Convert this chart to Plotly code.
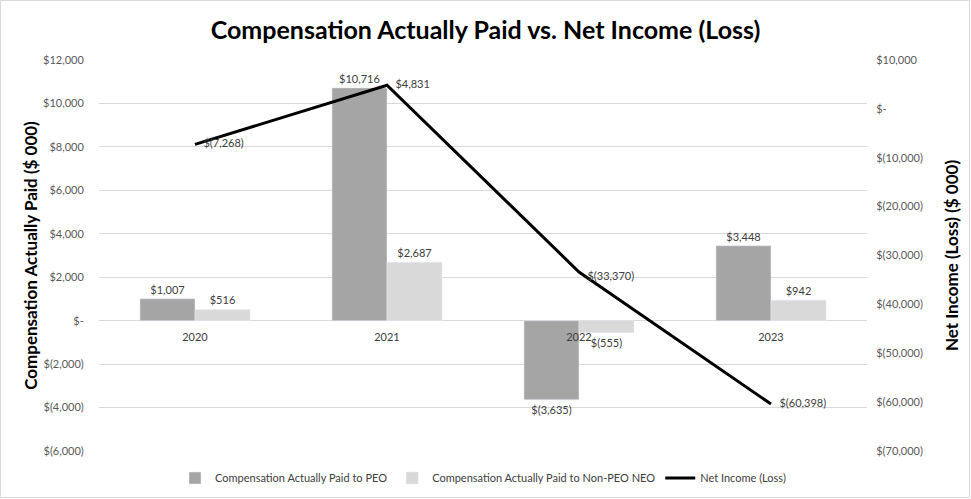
import plotly.graph_objects as go
from plotly.subplots import make_subplots

years = ["2020", "2021", "2022", "2023"]
cap_peo = [1007, 10716, -3635, 3448]
cap_non_peo = [516, 2687, -555, 942]
net_income = [-7268, 4831, -33370, -60398]
left_ticks = [12000, 10000, 8000, 6000, 4000, 2000, 0, -2000, -4000, -6000]
right_ticks = [10000, 0, -10000, -20000, -30000, -40000, -50000, -60000, -70000]

title = "Compensation Actually Paid vs. Net Income (Loss)"
left_title = "Compensation Actually Paid ($ 000)"
right_title = "Net Income (Loss) ($ 000)"
names = ["Compensation Actually Paid to PEO", "Compensation Actually Paid to Non-PEO NEO", "Net Income (Loss)"]


def fmt(v):
    if v == 0:
        return "$-"
    if v < 0:
        return "$({:,})".format(-v)
    return "${:,}".format(v)


FONT = "Lato"
W, H = 971, 499
ML, MR, MT, MB = 99, 104, 60, 48
PW, PH = W - ML - MR, H - MT - MB
PAD = "\u00a0\u00a0\u00a0"

fig = make_subplots(specs=[[{"secondary_y": True}]])

fig.add_trace(go.Bar(
    x=years, y=cap_peo, name=names[0], marker_color="#a5a5a5",
    text=[fmt(v) for v in cap_peo], textposition="outside",
    textfont=dict(size=11, color="#404040", family=FONT), cliponaxis=False,
), secondary_y=False)
fig.add_trace(go.Bar(
    x=years, y=cap_non_peo, name=names[1], marker_color="#d9d9d9",
    text=[fmt(v) for v in cap_non_peo], textposition="outside",
    textfont=dict(size=11, color="#404040", family=FONT), cliponaxis=False,
), secondary_y=False)
fig.add_trace(go.Scatter(
    x=years, y=net_income, name=names[2], mode="lines+text",
    line=dict(color="black", width=3),
    text=[PAD + fmt(v) for v in net_income],
    textposition=["middle right", "middle right", "bottom right", "middle right"],
    textfont=dict(size=11, color="#404040", family=FONT), cliponaxis=False,
), secondary_y=True)

lmin, lmax = min(left_ticks), max(left_ticks)
rmin, rmax = min(right_ticks), max(right_ticks)

fig.update_layout(
    width=W, height=H,
    margin=dict(l=ML, r=MR, t=MT, b=MB, autoexpand=False),
    paper_bgcolor="white", plot_bgcolor="white",
    font=dict(family=FONT, color="#595959"),
    title=dict(text="<b>" + title + "</b>", x=0.5, xanchor="center", xref="container",
               y=1 - 30 / H, yanchor="middle", yref="container",
               font=dict(size=25, color="black", family=FONT)),
    barmode="group", bargap=0.427, bargroupgap=0,
    showlegend=True,
    legend=dict(orientation="h", x=0.5, xanchor="center", y=-27 / PH, yanchor="middle",
                font=dict(size=11, color="#404040", family=FONT), traceorder="normal",
                itemwidth=30),
    shapes=[dict(type="rect", xref="paper", yref="paper",
                 x0=(0.5 - ML) / PW, x1=(W - 1.5 - ML) / PW,
                 y0=(PH + MT - (H - 1.5)) / PH, y1=(PH + MT - 0.5) / PH,
                 line=dict(color="#d9d9d9", width=1), fillcolor="rgba(0,0,0,0)", layer="below")],
)

fig.update_xaxes(type="category", anchor="free", domain=[0, 1],
                 position=(0 - lmin) / (lmax - lmin),
                 showline=False, showgrid=False, ticks="outside", ticklen=6,
                 tickcolor="rgba(0,0,0,0)", automargin=False,
                 tickfont=dict(size=11, color="#404040", family=FONT))

fig.update_yaxes(range=[lmin, lmax], tickvals=left_ticks, ticktext=[fmt(v) for v in left_ticks],
                 showgrid=True, gridcolor="#d9d9d9", gridwidth=1,
                 zeroline=True, zerolinecolor="#d9d9d9", zerolinewidth=1,
                 ticks="outside", ticklen=12, tickcolor="rgba(0,0,0,0)", automargin=False,
                 tickfont=dict(size=11, color="#595959", family=FONT),
                 title=dict(text="<b>" + left_title + "</b>", font=dict(size=17, color="black", family=FONT), standoff=1),
                 secondary_y=False)
fig.update_yaxes(range=[rmin, rmax], tickvals=right_ticks, ticktext=[fmt(v) for v in right_ticks],
                 showgrid=False, zeroline=False,
                 ticks="outside", ticklen=6, tickcolor="rgba(0,0,0,0)", automargin=False,
                 tickfont=dict(size=11, color="#595959", family=FONT),
                 title=dict(text="<b>" + right_title + "</b>", font=dict(size=17, color="black", family=FONT), standoff=24),
                 secondary_y=True)

fig.write_html("out.html")
